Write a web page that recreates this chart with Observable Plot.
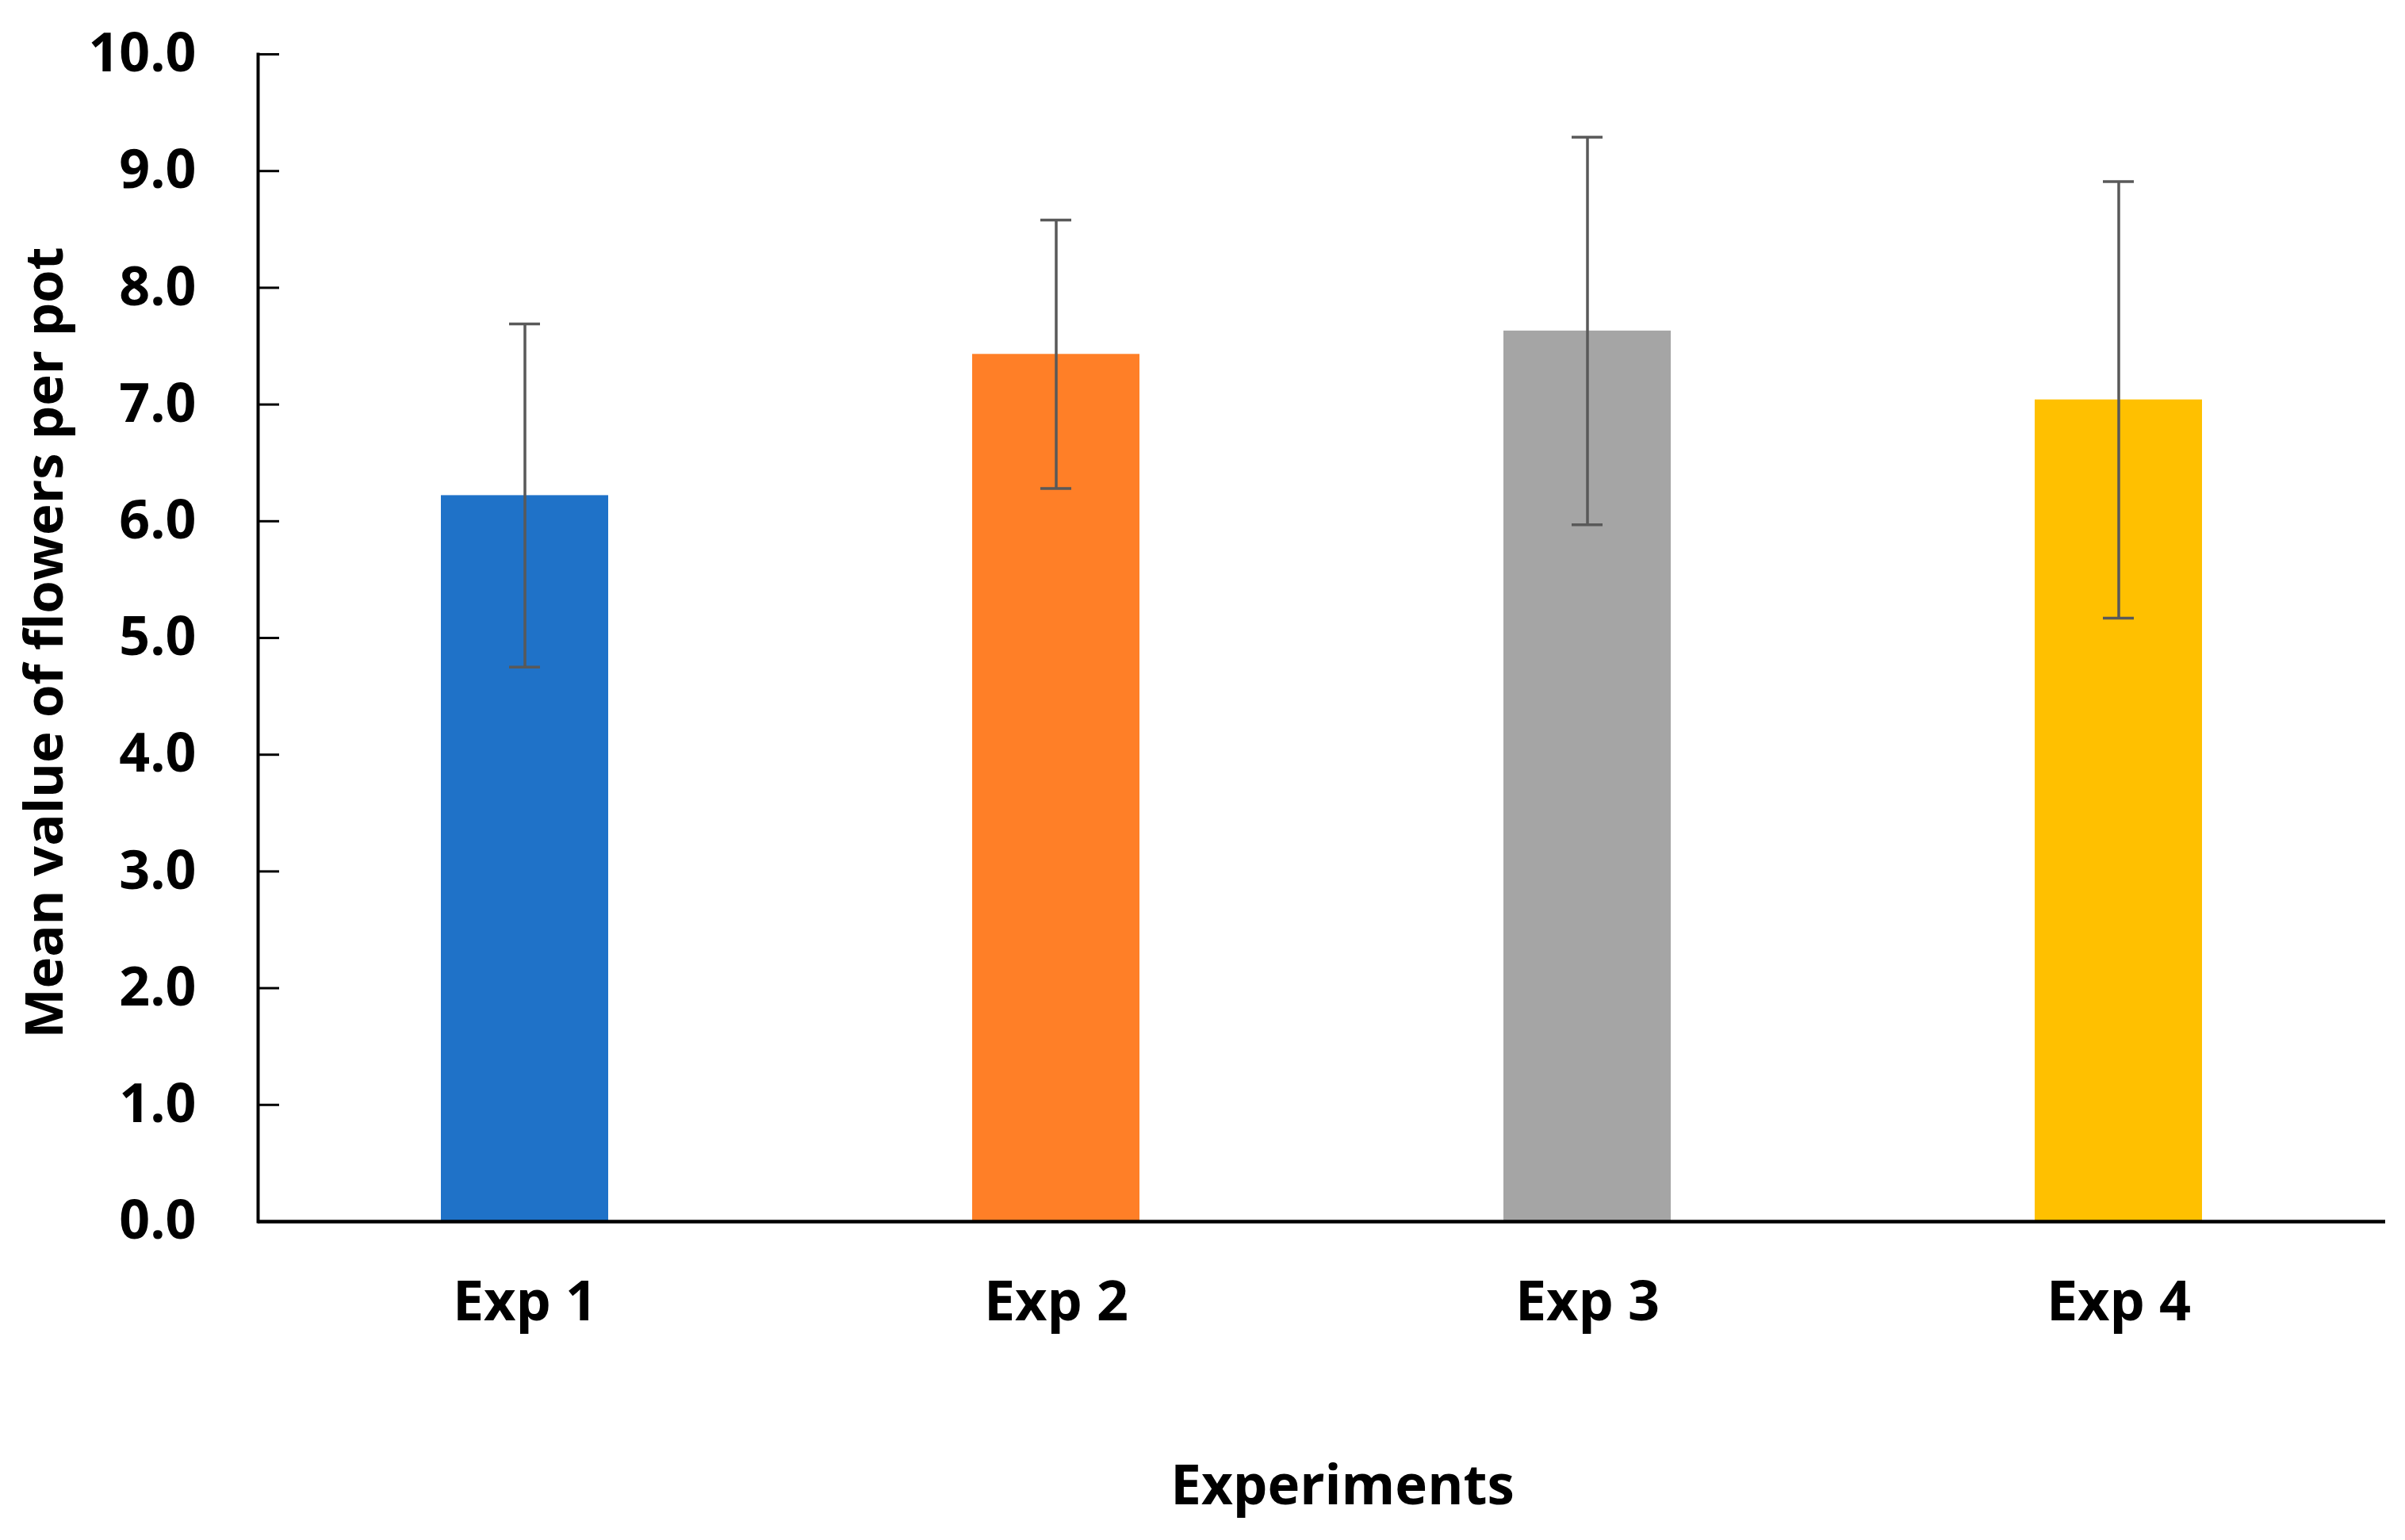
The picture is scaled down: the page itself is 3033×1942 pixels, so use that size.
<!DOCTYPE html>
<html>
<head>
<meta charset="utf-8">
<script src="https://cdn.jsdelivr.net/npm/d3@7"></script>
<script src="https://cdn.jsdelivr.net/npm/@observablehq/plot@0.6"></script>
<style>
  html, body { margin: 0; padding: 0; background: #ffffff; }
  #chart { width: 3033px; height: 1942px; }
</style>
</head>
<body>
<div id="chart"></div>
<script>
// ---- data ----
const experiments = ["Exp 1", "Exp 2", "Exp 3", "Exp 4"];
const means = [6.22, 7.43, 7.63, 7.04];
const errors = [1.47, 1.15, 1.66, 1.87];
const barColors = ["#1f72c8", "#ff7f27", "#a5a5a5", "#ffc000"];
const yTickValues = [0, 1, 2, 3, 4, 5, 6, 7, 8, 9, 10];
const yTitle = "Mean value of flowers per pot";
const xTitle = "Experiments";

const rows = experiments.map((name, i) => ({
  name, mean: means[i], err: errors[i],
  low: means[i] - errors[i], high: means[i] + errors[i]
}));

const FONT = "'Open Sans', 'Noto Sans', sans-serif";

const chart = Plot.plot({
  width: 3033,
  height: 1942,
  marginLeft: 325,
  marginRight: 25,
  marginTop: 68,
  marginBottom: 402,
  style: { fontFamily: FONT, fontWeight: "bold", fontSize: "70px", background: "#ffffff", color: "#000000" },
  x: { domain: experiments, paddingInner: 0.685, paddingOuter: 0.3425, label: null },
  y: { domain: [0, 10], label: null },
  color: { domain: experiments, range: barColors },
  marks: [
    Plot.barY(rows, { x: "name", y: "mean", fill: "name" }),
    Plot.ruleX(rows, { x: "name", y1: "low", y2: "high", stroke: "#595959", strokeWidth: 3.5 }),
    Plot.tickY(rows, { x: "name", y: "high", stroke: "#595959", strokeWidth: 3.5, insetLeft: 86, insetRight: 86 }),
    Plot.tickY(rows, { x: "name", y: "low", stroke: "#595959", strokeWidth: 3.5, insetLeft: 86, insetRight: 86 }),
    Plot.frame({ anchor: "left", stroke: "#000000", strokeWidth: 4 }),
    Plot.ruleY([0], { stroke: "#000000", strokeWidth: 4.5 }),
    // inward tick marks
    Plot.axisY({ ticks: yTickValues, tickSize: 27, dx: 27, tickFormat: () => "", label: null, stroke: "#000000", strokeWidth: 3 }),
    // tick labels
    Plot.axisY({ ticks: yTickValues, tickSize: 0, tickPadding: 78, tickFormat: d3.format(".1f"), label: null,
                 fontSize: 68, fontWeight: "bold", fill: "#000000" }),
    Plot.axisX({ tickSize: 0, tickPadding: 75, label: null, fontSize: 70, fontWeight: "bold", fill: "#000000" }),
    Plot.text([yTitle], { text: d => d, frameAnchor: "left", dx: -268, dy: 6, rotate: -90,
                          fontSize: 67, fontWeight: "bold", fill: "#000000", textAnchor: "middle" }),
    Plot.text([xTitle], { text: d => d, frameAnchor: "bottom", dx: 26, dy: 307, lineAnchor: "top",
                          fontSize: 69, fontWeight: "bold", fill: "#000000", textAnchor: "middle" })
  ]
});

document.getElementById("chart").appendChild(chart);
</script>
</body>
</html>
